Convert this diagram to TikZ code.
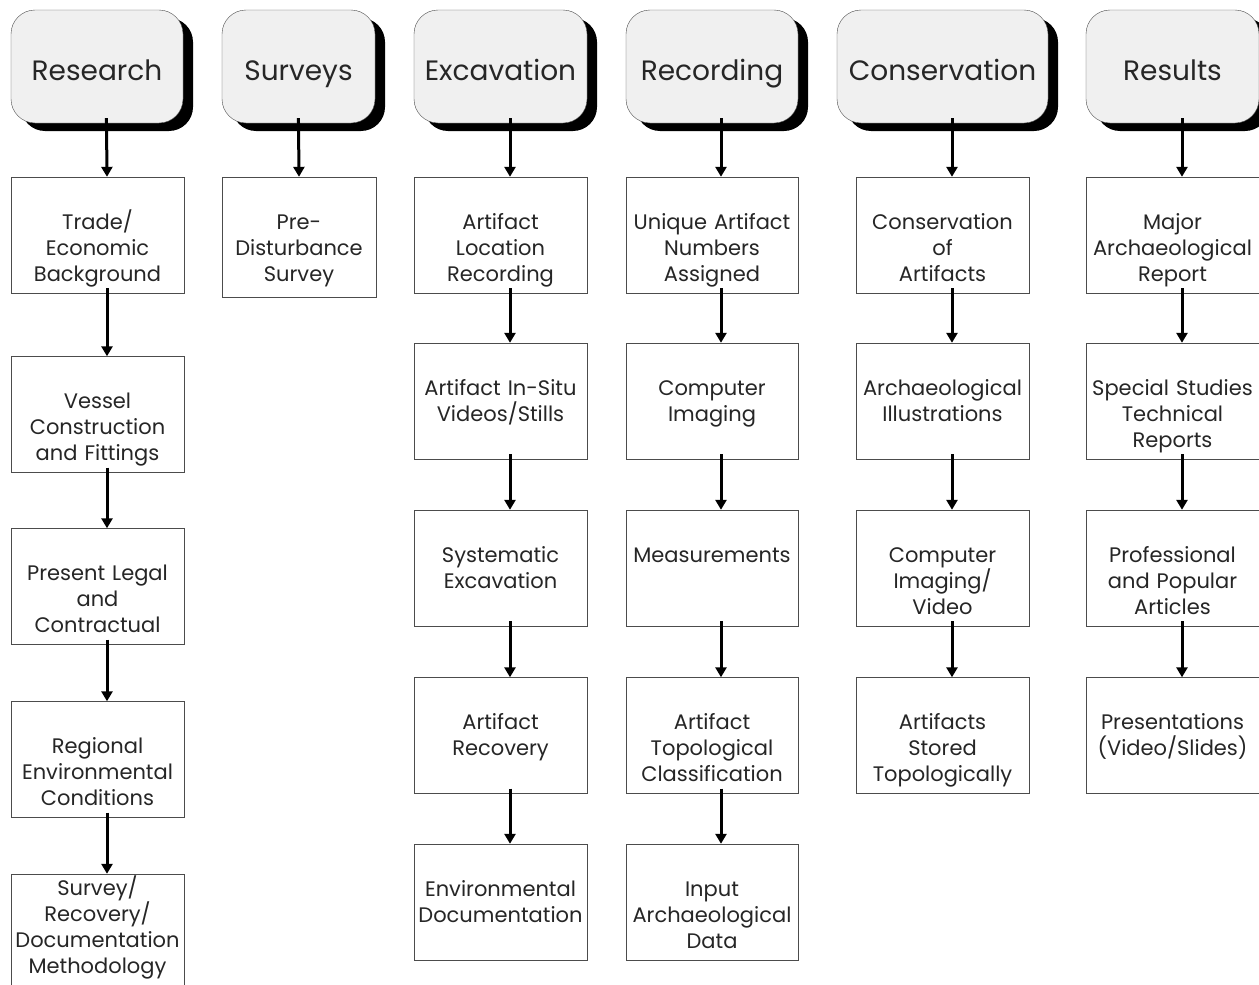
\documentclass[tikz,border=0pt]{standalone}
\usepackage{fontspec}
\setmainfont{Poppins}
\usetikzlibrary{arrows.meta,shadows}

\tikzset{
    head/.style={draw=black!70, fill=black!6, rounded corners=24pt, inner sep=0pt,
        text height=70pt, text depth=43pt, text=black!85, font=\fontsize{28}{32}\selectfont,
        drop shadow={shadow xshift=10pt, shadow yshift=-8pt, fill=black, opacity=1}},
    task/.style={draw=black!70, fill=white, text width=173pt, inner sep=0pt, align=center,
        text height=52pt, text depth=64pt, text=black!85, font=\fontsize{21}{26}\selectfont},
    flow/.style={line width=3pt, -{Triangle[width=11pt,length=10pt]}, shorten <=-5pt}
}

\begin{document}
\begin{tikzpicture}[x=1pt, y=-1pt]
    \useasboundingbox (0,0) rectangle (1259,985);

    \node[head, minimum width=172pt] (res) at (97,66.5) {Research};
    \node[head, minimum width=153pt] (srv) at (298.5,66.5) {Surveys};
    \node[head, minimum width=173pt] (exc) at (500.5,66.5) {Excavation};
    \node[head, minimum width=172pt] (rec) at (712,66.5) {Recording};
    \node[head, minimum width=211pt] (con) at (942.5,66.5) {Conservation};
    \node[head, minimum width=173pt] (rslt) at (1172.5,66.5) {Results};

    \node[task] (trade) at (97.5,235) {Trade/\\Economic\\Background};
    \node[task] (vessel) at (97.5,414.5) {Vessel\\Construction\\and Fittings};
    \node[task] (legal) at (97.5,586.5) {Present Legal\\and\\Contractual};
    \node[task] (regional) at (97.5,759.5) {Regional\\Environmental\\Conditions};
    \node[task, text height=21pt, text depth=95pt] (method) at (97.5,932)
        {Survey/\\Recovery/\\Documentation\\Methodology};

    \node[task, text width=154pt, text depth=68pt] (predist) at (299,237) {Pre-\\Disturbance\\Survey};

    \node[task] (location) at (500.5,235) {Artifact\\Location\\Recording};
    \node[task] (insitu) at (500.5,401) {Artifact In-Situ\\Videos/Stills};
    \node[task] (system) at (500.5,568) {Systematic\\Excavation};
    \node[task] (recovery) at (500.5,735.5) {Artifact\\Recovery};
    \node[task] (envdoc) at (500.5,902) {Environmental\\Documentation};

    \node[task, text width=172pt] (unique) at (712,235) {Unique Artifact\\Numbers\\Assigned};
    \node[task, text width=172pt] (imaging) at (712,401) {Computer\\Imaging};
    \node[task, text width=172pt] (measure) at (712,568) {Measurements};
    \node[task, text width=172pt] (topo) at (712,735.5) {Artifact\\Topological\\Classification};
    \node[task, text width=172pt] (input) at (712,902) {Input\\Archaeological\\Data};

    \node[task] (consart) at (942.5,235) {Conservation\\of\\Artifacts};
    \node[task] (illus) at (942.5,401) {Archaeological\\Illustrations};
    \node[task] (compvid) at (942.5,568) {Computer\\Imaging/\\Video};
    \node[task] (stored) at (942.5,735.5) {Artifacts\\Stored\\Topologically};

    \node[task] (report) at (1172.5,235) {Major\\Archaeological\\Report};
    \node[task] (special) at (1172.5,401) {Special Studies\\Technical\\Reports};
    \node[task] (articles) at (1172.5,568) {Professional\\and Popular\\Articles};
    \node[task] (present) at (1172.5,735.5) {Presentations\\(Video/Slides)};

    \draw[flow] ([xshift=9.5pt]res.south) -- ([xshift=9.5pt]trade.north);
    \draw[flow] ([xshift=9.5pt]trade.south) -- ([xshift=9.5pt]vessel.north);
    \draw[flow] ([xshift=9.5pt]vessel.south) -- ([xshift=9.5pt]legal.north);
    \draw[flow] ([xshift=9.5pt]legal.south) -- ([xshift=9.5pt]regional.north);
    \draw[flow] ([xshift=9.5pt]regional.south) -- ([xshift=9.5pt]method.north);

    \draw[flow] (srv.south) -- (predist.north);

    \draw[flow] ([xshift=9.5pt]exc.south) -- ([xshift=9.5pt]location.north);
    \draw[flow] ([xshift=9.5pt]location.south) -- ([xshift=9.5pt]insitu.north);
    \draw[flow] ([xshift=9.5pt]insitu.south) -- ([xshift=9.5pt]system.north);
    \draw[flow] ([xshift=9.5pt]system.south) -- ([xshift=9.5pt]recovery.north);
    \draw[flow] ([xshift=9.5pt]recovery.south) -- ([xshift=9.5pt]envdoc.north);

    \draw[flow] ([xshift=9pt]rec.south) -- ([xshift=9pt]unique.north);
    \draw[flow] ([xshift=9pt]unique.south) -- ([xshift=9pt]imaging.north);
    \draw[flow] ([xshift=9pt]imaging.south) -- ([xshift=9pt]measure.north);
    \draw[flow] ([xshift=9pt]measure.south) -- ([xshift=9pt]topo.north);
    \draw[flow] ([xshift=9pt]topo.south) -- ([xshift=9pt]input.north);

    \draw[flow] ([xshift=9.5pt]con.south) -- ([xshift=9.5pt]consart.north);
    \draw[flow] ([xshift=9.5pt]consart.south) -- ([xshift=9.5pt]illus.north);
    \draw[flow] ([xshift=9.5pt]illus.south) -- ([xshift=9.5pt]compvid.north);
    \draw[flow] ([xshift=9.5pt]compvid.south) -- ([xshift=9.5pt]stored.north);

    \draw[flow] ([xshift=9.5pt]rslt.south) -- ([xshift=9.5pt]report.north);
    \draw[flow] ([xshift=9.5pt]report.south) -- ([xshift=9.5pt]special.north);
    \draw[flow] ([xshift=9.5pt]special.south) -- ([xshift=9.5pt]articles.north);
    \draw[flow] ([xshift=9.5pt]articles.south) -- ([xshift=9.5pt]present.north);
\end{tikzpicture}
\end{document}
